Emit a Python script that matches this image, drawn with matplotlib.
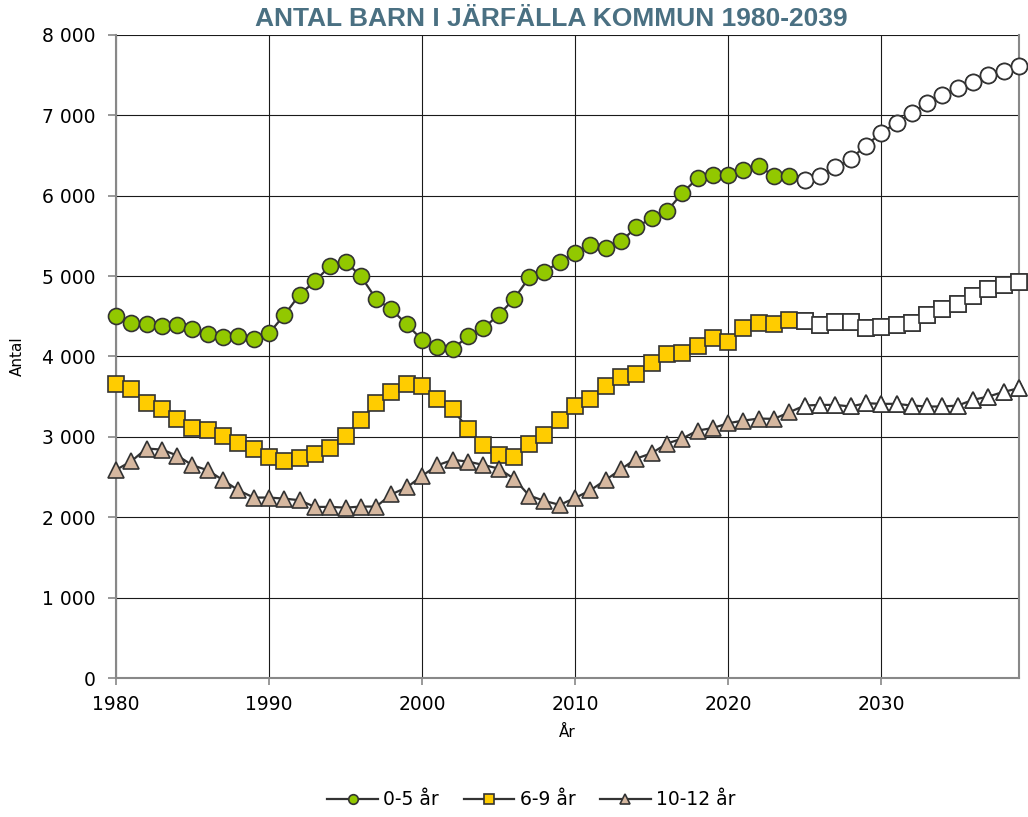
import matplotlib
matplotlib.use("Agg")
import matplotlib.pyplot as plt
from matplotlib.ticker import FuncFormatter, MultipleLocator

plt.rcParams['font.family'] = ['DejaVu Sans']

years = list(range(1980, 2040))
last_hist = 2024  # later years are forecast (white markers)

age_0_5 = [4500, 4420, 4400, 4380, 4390, 4340, 4280, 4240, 4250, 4220,
           4290, 4515, 4770, 4935, 5130, 5180, 5000, 4715, 4585, 4400,
           4207, 4116, 4095, 4250, 4353, 4515, 4714, 4983, 5054, 5178,
           5286, 5386, 5349, 5432, 5609, 5721, 5808, 6032, 6219, 6260,
           6260, 6320, 6367, 6247, 6247, 6200, 6249, 6353, 6457, 6624,
           6782, 6906, 7031, 7148, 7252, 7343, 7414, 7497, 7551, 7613]

age_6_9 = [3660, 3593, 3427, 3349, 3220, 3108, 3087, 3012, 2929, 2855,
           2747, 2705, 2734, 2784, 2859, 3012, 3212, 3419, 3556, 3660,
           3639, 3477, 3344, 3100, 2900, 2776, 2755, 2909, 3025, 3212,
           3378, 3477, 3627, 3739, 3784, 3925, 4033, 4041, 4133, 4228,
           4178, 4353, 4415, 4402, 4448, 4436, 4390, 4423, 4423, 4349,
           4373, 4386, 4415, 4515, 4589, 4656, 4747, 4838, 4892, 4929]

age_10_12 = [2589, 2697, 2855, 2842, 2768, 2647, 2585, 2461, 2336, 2245,
             2245, 2232, 2212, 2129, 2129, 2120, 2133, 2133, 2286, 2371,
             2515, 2647, 2714, 2693, 2651, 2606, 2481, 2270, 2203, 2154,
             2241, 2336, 2465, 2598, 2730, 2797, 2917, 2979, 3079, 3110,
             3170, 3203, 3228, 3224, 3307, 3390, 3398, 3398, 3378, 3419,
             3411, 3411, 3390, 3378, 3378, 3390, 3461, 3502, 3560, 3606]

labels = ['0-5 år', '6-9 år', '10-12 år']
colors = ['#92c800', '#ffcc00', '#d6b8a0']
markers = ['o', 's', '^']
sizes = [11.5, 11, 11.5]

fig = plt.figure(figsize=(10.28, 8.17), dpi=100)
ax = fig.add_axes([0.1128, 0.1701, 0.8784, 0.7871])

fc_years = [y for y in years if y > last_hist]
for vals, lab, col, mk, ms in zip([age_0_5, age_6_9, age_10_12], labels, colors, markers, sizes):
    ax.plot(years, vals, color='#333333', lw=1.6, marker=mk, ms=ms,
            mfc=col, mec='#333333', mew=1.2, label=lab, zorder=3, clip_on=False)
    fc_vals = [v for y, v in zip(years, vals) if y > last_hist]
    ax.plot(fc_years, fc_vals, ls='none', marker=mk, ms=ms,
            mfc='white', mec='#333333', mew=1.2, zorder=4, clip_on=False)

ax.set_xlim(1980, 2039)
ax.set_ylim(0, 8000)
ax.xaxis.set_major_locator(MultipleLocator(10))
ax.yaxis.set_major_locator(MultipleLocator(1000))
ax.yaxis.set_major_formatter(FuncFormatter(lambda v, p: f"{int(v):,}".replace(",", " ")))
ax.grid(True, color='#1a1a1a', lw=0.8)
ax.set_axisbelow(True)

for s in ['left', 'bottom', 'right']:
    ax.spines[s].set_color('#888888')
    ax.spines[s].set_linewidth(1.5)
ax.spines['top'].set_visible(False)
ax.tick_params(axis='both', colors='#888888', labelcolor='black', labelsize=13.5, width=1.2)
ax.tick_params(axis='y', length=6, pad=9)
ax.tick_params(axis='x', length=5, pad=7)

ax.set_xlabel('År', fontsize=11, labelpad=8)
ax.set_ylabel('Antal', fontsize=11, labelpad=12)

fig.text(0.536, 0.977, 'ANTAL BARN I JÄRFÄLLA KOMMUN 1980-2039', ha='center', va='center',
         fontsize=19, fontweight='bold', color='#4a7082',
         family=['Liberation Sans', 'DejaVu Sans'])

fig.legend(loc='center', bbox_to_anchor=(0.517, 0.021), ncol=3, frameon=False,
           fontsize=13.5, markerscale=0.6, handlelength=2.7, handletextpad=0.3,
           columnspacing=1.3)

fig.savefig('out.png', dpi=100)
